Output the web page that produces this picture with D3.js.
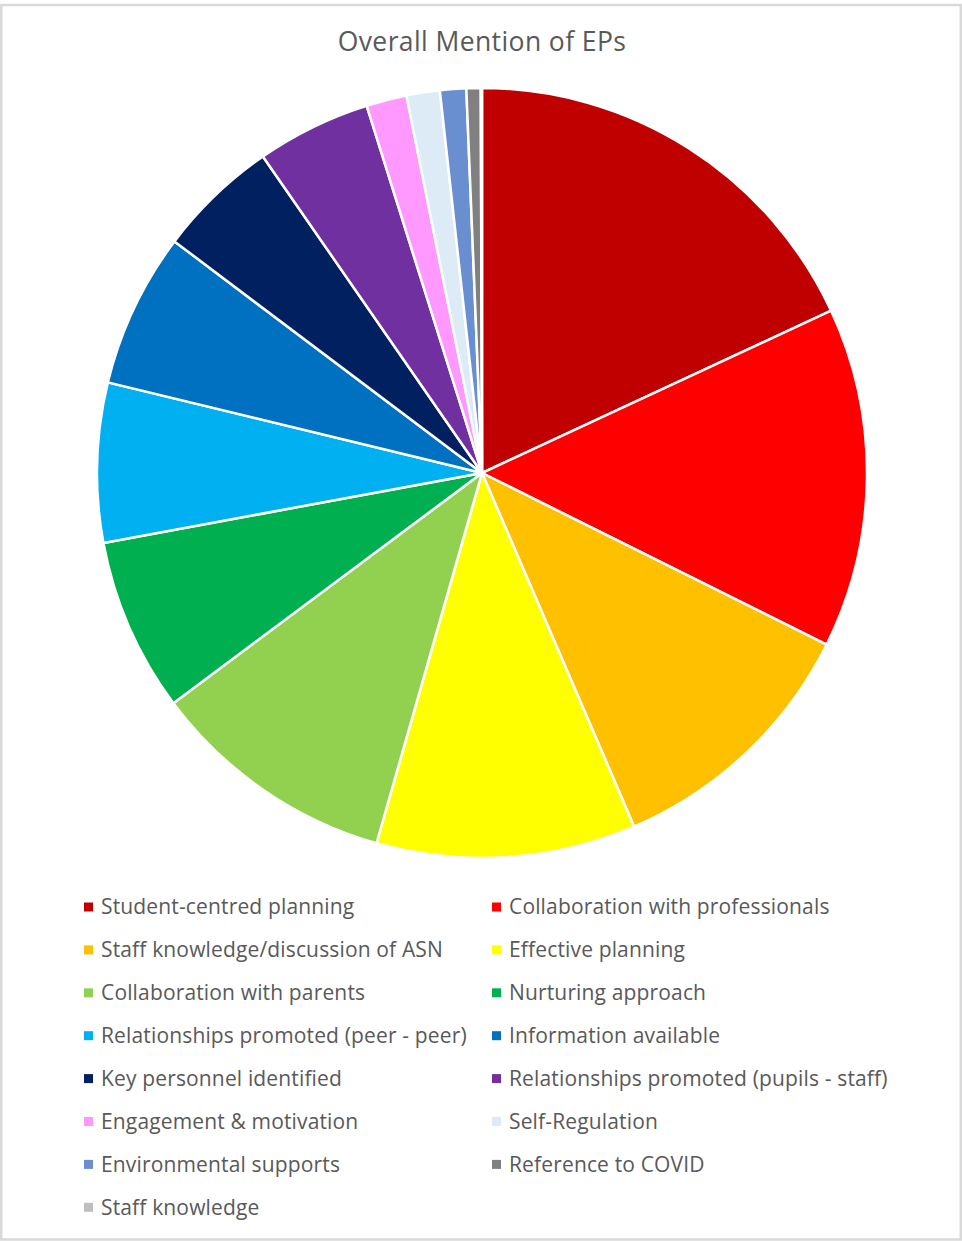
<!DOCTYPE html>
<html>
<head>
<meta charset="utf-8">
<script src="https://cdn.jsdelivr.net/npm/d3@7"></script>
<style>
  body { margin: 0; background: #fff; }
  text { font-family: "Open Sans", "Liberation Sans", sans-serif; fill: #595959; }
</style>
</head>
<body>
<div id="chart"></div>
<script>
// categories, in slice order (clockwise from 12 o'clock)
const categories = [
  "Student-centred planning",
  "Collaboration with professionals",
  "Staff knowledge/discussion of ASN",
  "Effective planning",
  "Collaboration with parents",
  "Nurturing approach",
  "Relationships promoted (peer - peer)",
  "Information available",
  "Key personnel identified",
  "Relationships promoted (pupils - staff)",
  "Engagement & motivation",
  "Self-Regulation",
  "Environmental supports",
  "Reference to COVID",
  "Staff knowledge"
];

// share of mentions (%)
const values = [18.1, 14.3, 11.2, 10.9, 10.4, 7.3, 6.7, 6.5, 5.1, 4.8, 1.7, 1.4, 1.1, 0.6, 0.05];

const colors = [
  "#C00000", "#FF0000", "#FFC000", "#FFFF00", "#92D050",
  "#00B050", "#00B0F0", "#0070C0", "#002060", "#7030A0",
  "#FF99FF", "#DDEBF7", "#6A8FD0", "#808080", "#BFBFBF"
];

const title = "Overall Mention of EPs";

const width = 962, height = 1241;
const cx = 482, cy = 473, radius = 385;

const svg = d3.select("#chart")
  .append("svg")
  .attr("width", width)
  .attr("height", height);

// outer frame
svg.append("rect")
  .attr("x", 1.25).attr("y", 5)
  .attr("width", 959.5).attr("height", 1234.5)
  .attr("fill", "#fff")
  .attr("stroke", "#d9d9d9")
  .attr("stroke-width", 2.5);

// title
svg.append("text")
  .attr("x", cx).attr("y", 51)
  .attr("text-anchor", "middle")
  .style("font-size", "26.5px")
  .style("letter-spacing", "0.4px")
  .text(title);

const data = categories.map((c, i) => ({ name: c, value: values[i] }));

const color = d3.scaleOrdinal().domain(categories).range(colors);

const pie = d3.pie().sort(null).value(d => d.value);
const arc = d3.arc().innerRadius(0).outerRadius(radius);

const g = svg.append("g").attr("transform", `translate(${cx}, ${cy})`);

g.selectAll("path")
  .data(pie(data))
  .enter()
  .append("path")
  .attr("d", arc)
  .attr("fill", d => color(d.data.name))
  .attr("stroke", "#fff")
  .attr("stroke-width", 2.5)
  .attr("stroke-linejoin", "round");

// legend: two columns
const legend = svg.append("g");
const colX = [84, 492], rowY0 = 907, rowStep = 42.9;

const item = legend.selectAll("g")
  .data(categories)
  .enter()
  .append("g")
  .attr("transform", (d, i) => `translate(${colX[i % 2]}, ${rowY0 + Math.floor(i / 2) * rowStep})`);

item.append("rect")
  .attr("x", 0).attr("y", -4.5)
  .attr("width", 9).attr("height", 9)
  .attr("fill", d => color(d));

item.append("text")
  .attr("x", 17).attr("y", 0)
  .attr("dy", "0.35em")
  .style("font-size", "21px")
  .style("letter-spacing", "0.15px")
  .text(d => d);
</script>
</body>
</html>
